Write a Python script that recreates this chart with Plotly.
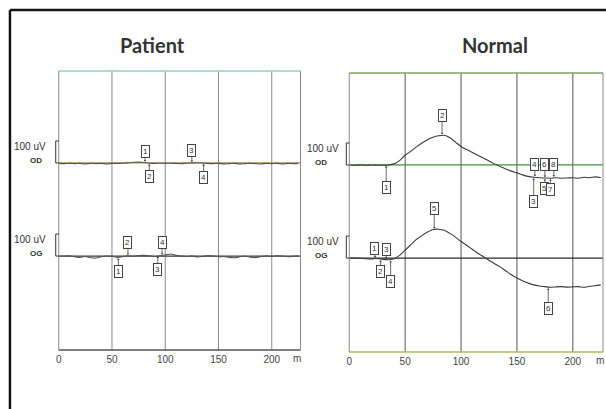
import plotly.graph_objects as go

# Sample times (ms) shared by all four recordings
t_ms = list(range(0, 230, 5))

# Amplitudes in uV relative to each channel's own baseline
patient_od = [-2, -3, -2, -3, -2, -4, -2, -3, -2, -4, -2, -2, -1, 1, 3, 4, 2, -1, -2, -1,
              -2, -1, -2, -3, -1, 0, 1, 0, -2, -3, -2, -4, -3, -2, -4, -3, -2, -3, -4, -2,
              -3, -2, -4, -2, -3, -2]
patient_og = [0, 0, 1, -3, -6, -2, -8, -9, -3, 0, -1, -7, -2, 1, 0, 2, 3, 1, -2, 2,
              5, 9, 3, 0, -2, 1, -4, -2, 2, 0, -3, -2, -6, -8, -3, 0, -5, -7, -2, 1,
              -1, 2, 0, -3, -1, 1]
normal_od = [0, -1, 0, -1, 0, -1, -1, 0, 5, 20, 44, 62, 82, 100, 115, 126, 133, 135, 124, 104,
             84, 70, 57, 44, 32, 18, 5, -7, -18, -28, -36, -45, -52, -56, -58, -59, -60, -58, -60, -59,
             -58, -60, -56, -58, -54, -57]
normal_og = [0, 0, -1, -3, -4, -2, -6, -8, -3, 12, 36, 60, 85, 102, 118, 130, 131, 126, 112, 95,
             75, 58, 40, 22, 6, -10, -26, -40, -58, -76, -91, -103, -114, -122, -127, -130, -133, -131, -130, -132,
             -131, -130, -133, -128, -126, -122]

# Numbered peak markers: (label, time in ms)
patient_od_marks = [("1", 81), ("2", 85), ("3", 125), ("4", 136)]
patient_og_marks = [("2", 65), ("4", 97), ("1", 56), ("3", 93)]
normal_od_marks = [("1", 33), ("2", 83), ("4", 166), ("6", 175), ("8", 183), ("5", 175), ("7", 180), ("3", 165)]
normal_og_marks = [("1", 23), ("3", 33), ("2", 28), ("4", 37), ("5", 76), ("6", 178)]

x_ticks = [0, 50, 100, 150, 200]
x_tick_text = ["0", "50", "100", "150", "200"]

OG_OFFSET = -423          # vertical position of the OG channel baseline (uV)
SCALE_UV = 100            # calibration bracket height
X_RANGE = [0, 227]
Y_RANGE = [-850, 418]

W, H = 606, 409


def value_at(times, values, t):
    i = min(range(len(times)), key=lambda k: abs(times[k] - t))
    return values[i]


fig = go.Figure()

panels = [
    dict(name="Patient", xa="x", ya="y", dom_x=[56 / W, 299 / W], dom_y=[1 - 350 / H, 1 - 71 / H],
         od=patient_od, og=patient_og, od_marks=patient_od_marks, og_marks=patient_og_marks,
         od_offsets=[-11, 13, -12, 15], og_offsets=[-13, -13, 14, 14],
         od_base="#b0903a", og_base="#3a3a3a", top="#8fd0d0", bottom="#555555",
         trace_col="#555555", grid="#8a8a8a", title_x=150 / W,
         lab_x=45 / W, od_lab_x=33 / W, brk=53 / W),
    dict(name="Normal", xa="x2", ya="y2", dom_x=[348 / W, 603 / W], dom_y=[1 - 352 / H, 1 - 73 / H],
         od=normal_od, og=normal_og, od_marks=normal_od_marks, og_marks=normal_og_marks,
         od_offsets=[23, -20, -13, -13, -13, 11, 11, 24], og_offsets=[-10, -10, 12, 22, -21, 21],
         od_base="#3f8f3a", og_base="#2a2a2a", top="#7aa860", bottom="#b8b850",
         trace_col="#3a3a3a", grid="#555555", title_x=494 / W,
         lab_x=340 / W, od_lab_x=320 / W, brk=345 / W),
]

annotations = []
shapes = []

for i, p in enumerate(panels):
    suffix = "" if i == 0 else "2"
    xref, yref = "x" + suffix, "y" + suffix
    od_vals = p["od"]
    og_vals = [v + OG_OFFSET for v in p["og"]]

    for vals, col in ((od_vals, p["trace_col"]), (og_vals, p["trace_col"])):
        fig.add_trace(go.Scatter(x=t_ms, y=vals, mode="lines", xaxis=p["xa"], yaxis=p["ya"],
                                 line=dict(color=col, width=1.1, shape="spline", smoothing=0.6),
                                 showlegend=False, hoverinfo="skip"))

    # vertical grid lines
    for g in x_ticks[1:]:
        shapes.append(dict(type="line", xref=xref, yref=yref + " domain", x0=g, x1=g, y0=0, y1=1,
                           line=dict(color=p["grid"], width=1), layer="below"))

    # channel baselines
    shapes.append(dict(type="line", xref=xref + " domain", yref=yref, x0=0, x1=1, y0=0, y1=0,
                       line=dict(color=p["od_base"], width=1.3), layer="below"))
    shapes.append(dict(type="line", xref=xref + " domain", yref=yref, x0=0, x1=1, y0=OG_OFFSET, y1=OG_OFFSET,
                       line=dict(color=p["og_base"], width=1.2), layer="below"))

    # plot frame
    shapes += [
        dict(type="line", xref=xref + " domain", yref=yref + " domain", x0=0, x1=1, y0=1, y1=1,
             line=dict(color=p["top"], width=1.3)),
        dict(type="line", xref=xref + " domain", yref=yref + " domain", x0=0, x1=1, y0=0, y1=0,
             line=dict(color=p["bottom"], width=1.3)),
        dict(type="line", xref=xref + " domain", yref=yref + " domain", x0=0, x1=0, y0=0, y1=1,
             line=dict(color="#8a8a8a", width=1)),
        dict(type="line", xref=xref + " domain", yref=yref + " domain", x0=1, x1=1, y0=0, y1=1,
             line=dict(color="#8a8a8a", width=1)),
    ]

    # calibration brackets and channel labels
    left = p["dom_x"][0]
    for base, ch in ((0, "OD"), (OG_OFFSET, "OG")):
        shapes.append(dict(type="path", xref="paper", yref=yref,
                           path=f"M {left},{base} L {p['brk']},{base} L {p['brk']},{base + SCALE_UV} "
                                f"L {p['brk'] + 3 / W},{base + SCALE_UV}",
                           line=dict(color="#333333", width=1)))
        annotations.append(dict(x=p["lab_x"], y=base + 77, xref="paper", yref=yref, text=f"{SCALE_UV} uV",
                                showarrow=False, xanchor="right",
                                font=dict(family="Liberation Sans", size=10, color="#333333")))
        annotations.append(dict(x=p["od_lab_x"], y=base + 10, xref="paper", yref=yref, text=f"<b>{ch}</b>",
                                showarrow=False, xanchor="center",
                                font=dict(family="Liberation Sans", size=8, color="#333333")))

    # numbered markers
    for marks, offs, vals in ((p["od_marks"], p["od_offsets"], p["od"]),
                              (p["og_marks"], p["og_offsets"], p["og"])):
        base = 0 if vals is p["od"] else OG_OFFSET
        for (lab, tm), ay in zip(marks, offs):
            annotations.append(dict(x=tm, y=value_at(t_ms, vals, tm) + base, xref=xref, yref=yref,
                                    text=lab, showarrow=True, ax=0, ay=ay, arrowhead=1, arrowsize=0.6,
                                    arrowwidth=0.8, arrowcolor="#444444", standoff=1,
                                    bordercolor="#444444", borderwidth=1, borderpad=1, bgcolor="white",
                                    font=dict(family="Liberation Sans", size=8, color="#333333")))

    # axis unit label, level with the tick labels
    annotations.append(dict(x=224, y=-8 / 279, xref=xref, yref=yref + " domain", text="m", showarrow=False,
                            yanchor="middle", font=dict(family="Liberation Sans", size=10, color="#444444")))

    # panel title
    annotations.append(dict(x=p["title_x"], y=1 - 45 / H, xref="paper", yref="paper", text=f"<b>{p['name']}</b>",
                            showarrow=False, font=dict(family="Lato", size=20, color="#333333"),
                            xanchor="center", yanchor="middle"))

    axis_common = dict(range=X_RANGE, showgrid=False, zeroline=False, showline=False,
                       tickvals=x_ticks, ticktext=x_tick_text, ticks="", ticklabelstandoff=2,
                       tickfont=dict(family="Liberation Sans", size=10, color="#444444"))
    fig.layout["xaxis" + suffix] = dict(domain=p["dom_x"], anchor=p["ya"], **axis_common)
    fig.layout["yaxis" + suffix] = dict(domain=p["dom_y"], anchor=p["xa"], range=Y_RANGE,
                                        showgrid=False, zeroline=False, showline=False,
                                        showticklabels=False, ticks="")

# outer frame of the figure
shapes += [
    dict(type="line", xref="paper", yref="paper", x0=7 / W, x1=1, y0=1 - 10 / H, y1=1 - 10 / H,
         line=dict(color="#151515", width=2.5)),
    dict(type="line", xref="paper", yref="paper", x0=7 / W, x1=7 / W, y0=0, y1=1 - 10 / H,
         line=dict(color="#151515", width=2.5)),
]

fig.update_layout(width=W, height=H, margin=dict(l=0, r=0, t=0, b=0),
                  paper_bgcolor="white", plot_bgcolor="white",
                  annotations=annotations, shapes=shapes, showlegend=False)

fig.write_html("out.html")
